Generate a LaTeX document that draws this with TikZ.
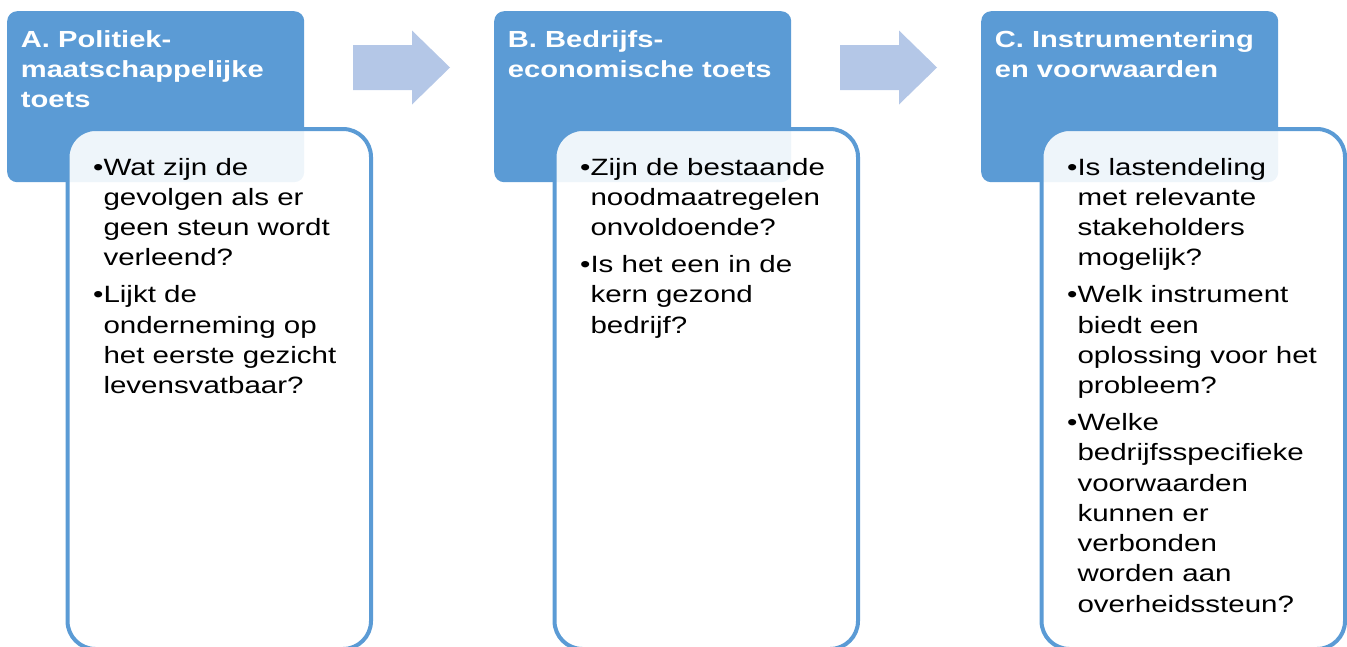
\documentclass[tikz,border=0pt]{standalone}
\usepackage{fontspec}
\setmainfont{Liberation Sans}[FakeStretch=1.25]
\usepackage{tikz}

\definecolor{kopblauw}{HTML}{5B9BD5}
\definecolor{pijlblauw}{HTML}{B4C7E7}
\newcommand{\regels}[1]{\begin{tabular}[t]{@{}l@{}}#1\end{tabular}}
\newcommand{\punten}[1]{\begin{tabular}[t]{@{}l@{}l@{}}#1\end{tabular}}

\tikzset{
  kop/.style={anchor=north west, fill=kopblauw, rounded corners=10pt,
    minimum width=297pt, minimum height=171pt, inner sep=0pt},
  vak/.style={anchor=north west, draw=kopblauw, line width=4pt, fill=white,
    fill opacity=0.9, rounded corners=28pt,
    minimum width=303.5pt, minimum height=520pt, inner sep=0pt},
  titel/.style={anchor=base west, inner sep=0pt, text=white,
    font=\fontsize{23.3}{30}\selectfont\bfseries},
  tekst/.style={anchor=base west, inner sep=0pt,
    font=\fontsize{23.6}{30.3}\selectfont},
  pijl/.style={fill=pijlblauw}
}

\begin{document}
\begin{tikzpicture}[x=1pt,y=-1pt]
  \useasboundingbox (0,0) rectangle (1347,646);
  \node[kop] (kopA) at (7,11) {};
  \node[kop] (kopB) at (494,11) {};
  \node[kop] (kopC) at (981,11) {};
  \node[vak] (vakA) at (65.5,127) {};
  \node[vak] (vakB) at (552.5,127) {};
  \node[vak] (vakC) at (1039.5,127) {};
  \fill[pijl] (353,45) -- (412,45) -- (412,30.5) -- (450,67.5) -- (412,104.5) -- (412,90) -- (353,90) -- cycle;
  \fill[pijl] (840,45) -- (899,45) -- (899,30.5) -- (937,67.5) -- (899,104.5) -- (899,90) -- (840,90) -- cycle;
  \node[titel] (titelA) at (20.7,47) {\regels{A. Politiek-\\maatschappelijke\\toets}};
  \node[titel] (titelB) at (507.7,47) {\regels{B. Bedrijfs-\\economische toets}};
  \node[titel] (titelC) at (994.7,47) {\regels{C. Instrumentering\\en voorwaarden}};
  \node[tekst] (tekstA) at (93,175) {\punten{
    \textbullet & Wat zijn de\\ & gevolgen als er\\ & geen steun wordt\\ & verleend?\\[6.5pt]
    \textbullet & Lijkt de\\ & onderneming op\\ & het eerste gezicht\\ & levensvatbaar?}};
  \node[tekst] (tekstB) at (580,175) {\punten{
    \textbullet & Zijn de bestaande\\ & noodmaatregelen\\ & onvoldoende?\\[6.5pt]
    \textbullet & Is het een in de\\ & kern gezond\\ & bedrijf?}};
  \node[tekst] (tekstC) at (1067,175) {\punten{
    \textbullet & Is lastendeling\\ & met relevante\\ & stakeholders\\ & mogelijk?\\[6.5pt]
    \textbullet & Welk instrument\\ & biedt een\\ & oplossing voor het\\ & probleem?\\[6.5pt]
    \textbullet & Welke\\ & bedrijfsspecifieke\\ & voorwaarden\\ & kunnen er\\ & verbonden\\ & worden aan\\ & overheidssteun?}};
\end{tikzpicture}
\end{document}
